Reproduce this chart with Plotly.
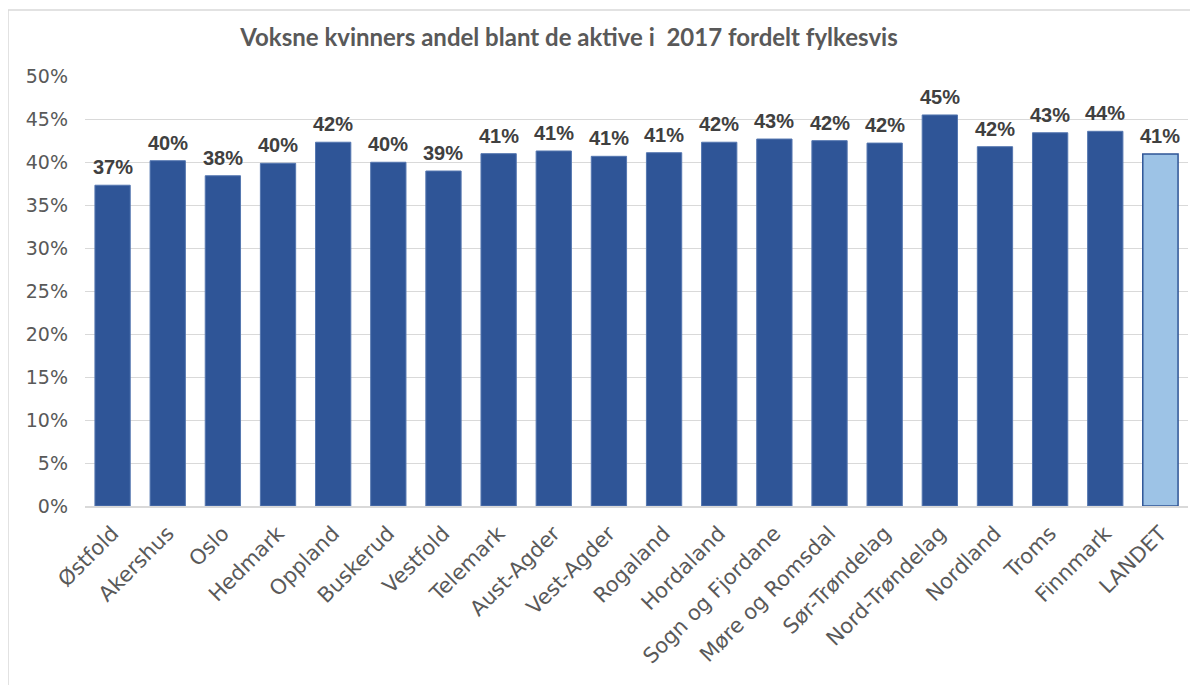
import subprocess
import plotly.graph_objects as go

categories = ["Østfold", "Akershus", "Oslo", "Hedmark", "Oppland", "Buskerud", "Vestfold",
              "Telemark", "Aust-Agder", "Vest-Agder", "Rogaland", "Hordaland",
              "Sogn og Fjordane", "Møre og Romsdal", "Sør-Trøndelag", "Nord-Trøndelag",
              "Nordland", "Troms", "Finnmark", "LANDET"]
values = [0.373, 0.4015, 0.384, 0.3985, 0.423, 0.3997, 0.3895,
          0.4097, 0.4128, 0.4066, 0.4108, 0.423,
          0.4267, 0.4248, 0.422, 0.4547,
          0.4178, 0.434, 0.4357, 0.4093]
tick_vals = [0, 0.05, 0.10, 0.15, 0.20, 0.25, 0.30, 0.35, 0.40, 0.45, 0.50]
tick_text = ["0%", "5%", "10%", "15%", "20%", "25%", "30%", "35%", "40%", "45%", "50%"]
title = "Voksne kvinners andel blant de aktive i  2017 fordelt fylkesvis"

try:
    fonts = subprocess.run(["fc-list"], capture_output=True, text=True).stdout
except Exception:
    fonts = ""
if "Liberation Sans Narrow" in fonts:
    label_font, label_size = "Liberation Sans Narrow", 23
else:
    label_font, label_size = "Liberation Sans", 20

colors = ["#2F5597"] * (len(categories) - 1) + ["#9DC3E6"]
line_colors = ["#5577b0"] * (len(categories) - 1) + ["#2F5597"]
line_widths = [1] * (len(categories) - 1) + [1.5]

fig = go.Figure(go.Bar(
    x=categories, y=values,
    marker=dict(color=colors, line=dict(color=line_colors, width=line_widths)),
))

for c, v in zip(categories, values):
    fig.add_annotation(x=c, y=v, text=f"{v:.0%}", showarrow=False,
                       yanchor="bottom", yshift=5,
                       font=dict(family=label_font, size=label_size, color="#404040",
                                 weight="bold"))

W, H = 1190, 678
L, R, T, B = 77, 10, 68, 180
pw, ph = W - L - R, H - T - B

fig.update_layout(
    width=W, height=H,
    margin=dict(l=L, r=R, t=T, b=B),
    paper_bgcolor="white", plot_bgcolor="white",
    bargap=0.36,
    showlegend=False,
    title=dict(text=title, xref="container", x=561 / W, xanchor="center",
               yref="container", y=1 - 30 / H, yanchor="middle",
               font=dict(family="Lato, Open Sans", size=24, color="#595959", weight="bold")),
    xaxis=dict(tickangle=-45, tickfont=dict(family="DejaVu Sans", size=21, color="#595959"),
               showline=True, linecolor="#d9d9d9", linewidth=1.5, ticks="", showgrid=False,
               automargin=False, ticklabelstandoff=5),
    yaxis=dict(range=[0, 0.5], tickvals=tick_vals, ticktext=tick_text,
               tickfont=dict(family="DejaVu Sans", size=19, color="#595959"),
               showgrid=True, gridcolor="#d9d9d9", gridwidth=1.3, zeroline=False,
               ticklabelstandoff=16, automargin=False),
    shapes=[
        dict(type="line", xref="paper", yref="paper",
             x0=-L / pw, x1=(W - L) / pw, y0=1 + (T - 2) / ph, y1=1 + (T - 2) / ph,
             line=dict(color="#d9d9d9", width=1.5)),
        dict(type="line", xref="paper", yref="paper",
             x0=-L / pw, x1=-L / pw, y0=1 + (T - 2) / ph, y1=-(B - 1) / ph,
             line=dict(color="#d9d9d9", width=1.5)),
    ],
)

fig.write_html("out.html")
